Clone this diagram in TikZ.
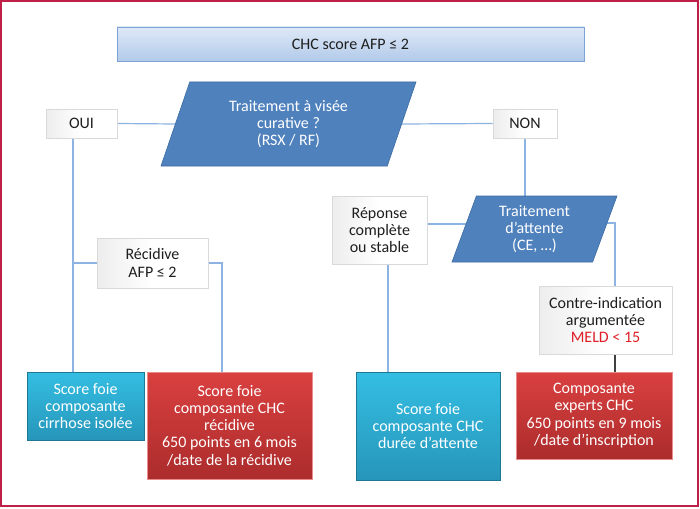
\documentclass[tikz,border=0pt]{standalone}
\usepackage{fontspec}
\setmainfont{Carlito}
\usetikzlibrary{shapes.geometric,backgrounds}
\definecolor{cadre}{RGB}{190,32,72}
\definecolor{texte}{RGB}{30,30,30}
\definecolor{titreHaut}{RGB}{222,233,247}
\definecolor{titreBas}{RGB}{178,202,234}
\definecolor{titreBord}{RGB}{125,162,212}
\definecolor{bleuFonce}{RGB}{79,129,189}
\definecolor{bleuBord}{RGB}{62,108,164}
\definecolor{cyanHaut}{RGB}{52,190,226}
\definecolor{cyanBas}{RGB}{38,150,186}
\definecolor{rougeHaut}{RGB}{218,64,64}
\definecolor{rougeBas}{RGB}{172,44,44}
\definecolor{lienBleu}{RGB}{141,179,226}
\definecolor{meld}{RGB}{224,30,40}

\begin{document}
\begin{tikzpicture}[x=1pt,y=-1pt,
  every node/.style={font=\fontsize{16}{17.3}\selectfont, align=center, inner sep=0pt},
  titre/.style={rectangle, draw=titreBord, line width=0.8pt, top color=titreHaut, bottom color=titreBas, text=texte},
  question/.style={trapezium, trapezium stretches body, fill=bleuFonce, draw=bleuBord, line width=0.6pt, text=white},
  blanc/.style={rectangle, draw=gray!30, line width=0.8pt, left color=gray!14, right color=white, middle color=white, text=texte},
  cyanbox/.style={rectangle, draw=cyanBas!80!black, line width=0.6pt, top color=cyanHaut, bottom color=cyanBas, text=white},
  rougebox/.style={rectangle, draw=rougeHaut!60!white, line width=0.6pt, top color=rougeHaut, bottom color=rougeBas, text=white},
  lien/.style={draw=lienBleu, line width=1.2pt},
  noir/.style={draw=texte!85, line width=1.2pt}]
\useasboundingbox (0,0) rectangle (700,508);
\draw[cadre, line width=1.5pt] (1,1) rectangle (698,506);

\node[titre, minimum width=467pt, minimum height=34pt] (Titre) at (350.5,44) {CHC score AFP ≤ 2};
\node[question, minimum width=255pt, minimum height=84pt, trapezium left angle=59, trapezium right angle=121] (Question) at (288.5,124) {Traitement à visée\\curative ?\\(RSX / RF)};
\node[blanc, minimum width=71pt, minimum height=29pt] (Oui) at (81.5,123.5) {OUI};
\node[blanc, minimum width=64pt, minimum height=29pt] (Non) at (525,123.5) {NON};
\node[blanc, minimum width=111pt, minimum height=50pt] (Recidive) at (152.5,263) {Récidive\\AFP ≤ 2};
\node[blanc, minimum width=95pt, minimum height=68pt] (Reponse) at (379.5,230) {Réponse\\complète\\ou stable};
\node[question, minimum width=165pt, minimum height=66pt, trapezium left angle=63, trapezium right angle=117] (Attente) at (534.5,229) {Traitement\\d’attente\\(CE, …)};
\node[blanc, minimum width=133pt, minimum height=68pt] (Contre) at (605.5,320) {Contre-indication\\argumentée\\\textcolor{meld}{MELD < 15}};

\node[cyanbox, minimum width=117pt, minimum height=68pt] (FoieCirrhose) at (85.5,406) {Score foie\\composante\\cirrhose isolée};
\node[rougebox, minimum width=165pt, minimum height=107pt] (FoieRecidive) at (229.5,425.5) {Score foie\\composante CHC\\récidive\\650 points en 6 mois\\/date de la récidive};
\node[cyanbox, minimum width=144pt, minimum height=108pt] (FoieAttente) at (428,426) {Score foie\\composante CHC\\durée d’attente};
\node[rougebox, minimum width=156pt, minimum height=87pt] (Experts) at (594,415.5) {Composante\\experts CHC\\650 points en 9 mois\\/date d’inscription};

\begin{scope}[on background layer]
\draw[lien] (Oui.east) -- (Question.west);
\draw[lien] (Question.east) -- (Non.west);
\draw[lien] ([xshift=-8.5pt]Oui.south) -- ([xshift=-8.5pt]Oui.south |- FoieCirrhose.north);
\draw[lien] (Recidive.west) -- ([xshift=-8.5pt]Oui.south |- Recidive.west);
\draw[lien] (Recidive.east) -| ([xshift=-7.5pt]FoieRecidive.north);
\draw[lien] (Non.south) -- (Non.south |- Attente.north);
\draw[lien] ([yshift=6pt]Reponse.east) -- ([yshift=6pt]Reponse.east -| Attente.center);
\draw[lien] ([yshift=6pt]Attente.center) -| ([xshift=9.5pt]Contre.north);
\draw[lien] ([xshift=8.5pt]Reponse.south) -- ([xshift=8.5pt]Reponse.south |- FoieAttente.north);
\draw[noir] ([xshift=9.5pt]Contre.south) -- ([xshift=9.5pt]Contre.south |- Experts.north);
\end{scope}
\end{tikzpicture}
\end{document}
